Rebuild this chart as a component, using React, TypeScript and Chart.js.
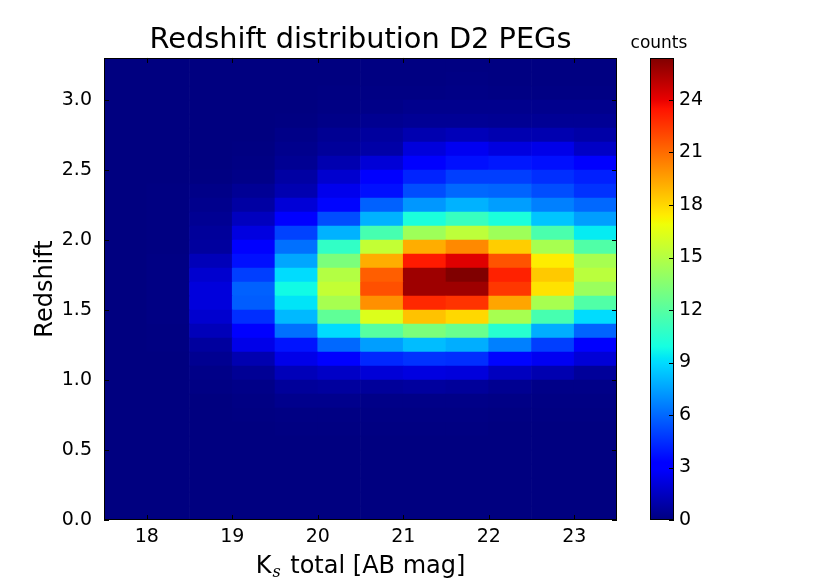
import React, { useEffect, useRef } from 'react';
import { Chart } from 'chart.js/auto';

Chart.defaults.font.family = "'DejaVu Sans', sans-serif";
Chart.defaults.color = '#000';

// K_s magnitude bins (centres), 0.5 mag wide
const magCentres = [17.75, 18.25, 18.75, 19.25, 19.75, 20.25, 20.75, 21.25, 21.75, 22.25, 22.75, 23.25];
const xRange = [17.5, 23.5];

// redshift bins (lower edges), 0.1 wide
const zLow = [
  0.0, 0.1, 0.2, 0.3, 0.4, 0.5, 0.6, 0.7, 0.8, 0.9, 1.0, 1.1, 1.2, 1.3, 1.4, 1.5, 1.6,
  1.7, 1.8, 1.9, 2.0, 2.1, 2.2, 2.3, 2.4, 2.5, 2.6, 2.7, 2.8, 2.9, 3.0, 3.1, 3.2,
];
const zWidth = 0.1;
const yRange = [0, 3.3];

// counts per cell, one row per redshift bin (bottom to top), one column per mag bin
const counts = [
  [0, 0, 0, 0, 0, 0, 0, 0, 0, 0, 0, 0], // 0.0
  [0, 0, 0, 0, 0, 0, 0, 0, 0, 0, 0, 0],
  [0, 0, 0, 0, 0, 0, 0, 0, 0, 0, 0, 0],
  [0, 0, 0, 0, 0, 0, 0, 0, 0, 0, 0, 0],
  [0, 0, 0, 0, 0, 0, 0, 0, 0, 0, 0, 0],
  [0, 0, 0, 0, 0, 0, 0, 0, 0, 0, 0, 0], // 0.5
  [0, 0, 0, 0, 0.05, 0.05, 0.05, 0.05, 0.05, 0, 0, 0],
  [0, 0, 0, 0.05, 0.1, 0.1, 0.1, 0.1, 0.1, 0.05, 0.05, 0.05],
  [0, 0, 0.02, 0.1, 0.3, 0.3, 0.2, 0.2, 0.2, 0.15, 0.1, 0.1],
  [0, 0, 0.1, 0.2, 0.6, 0.7, 0.6, 0.7, 0.6, 0.4, 0.2, 0.2],
  [0, 0, 0.2, 0.5, 1.3, 1.6, 2.0, 2.2, 2.1, 1.45, 1.1, 0.6], // 1.0
  [0, 0, 0.4, 1.1, 2.4, 3.1, 4.3, 4.6, 4.5, 3.4, 2.6, 2.0],
  [0, 0.05, 0.7, 2.4, 3.8, 6.0, 7.4, 8.2, 7.8, 6.6, 4.9, 3.1],
  [0, 0.05, 1.3, 3.1, 6.2, 9.0, 12.0, 13.2, 12.6, 10.5, 7.8, 5.9],
  [0, 0.1, 1.8, 4.5, 8.1, 12.3, 16.3, 18.6, 18.0, 14.6, 11.5, 9.0],
  [0, 0.1, 2.1, 5.7, 9.2, 14.6, 20.0, 22.9, 22.6, 19.4, 14.6, 11.8], // 1.5
  [0, 0.1, 2.1, 5.8, 9.8, 15.5, 21.8, 25.7, 25.7, 22.5, 17.7, 14.2],
  [0, 0.1, 1.8, 4.9, 9.0, 15.0, 21.4, 25.7, 26.4, 23.1, 18.4, 15.2],
  [0, 0.1, 1.3, 3.7, 7.6, 13.2, 19.2, 23.3, 24.2, 21.7, 17.4, 14.6],
  [0, 0.05, 0.7, 3.1, 6.2, 10.8, 15.5, 19.2, 20.2, 18.3, 14.6, 11.8],
  [0, 0.05, 0.6, 2.2, 5.0, 7.9, 11.5, 14.3, 15.3, 14.3, 11.6, 9.4], // 2.0
  [0, 0.05, 0.45, 1.45, 3.1, 5.3, 7.9, 10.1, 11.0, 10.1, 8.4, 7.4],
  [0, 0.05, 0.3, 0.8, 2.0, 3.4, 5.8, 7.2, 7.9, 7.4, 6.6, 6.0],
  [0, 0.05, 0.2, 0.5, 1.1, 2.5, 3.7, 5.3, 6.0, 5.9, 5.3, 4.6],
  [0, 0, 0.05, 0.2, 0.8, 1.8, 3.1, 4.2, 4.9, 4.9, 4.5, 4.1],
  [0, 0, 0.02, 0.1, 0.45, 1.1, 2.0, 3.1, 3.7, 3.9, 3.7, 3.1], // 2.5
  [0, 0, 0, 0.05, 0.3, 0.6, 0.9, 2.1, 2.6, 2.2, 2.4, 1.6],
  [0, 0, 0, 0, 0.2, 0.45, 0.7, 1.1, 1.3, 1.1, 1.1, 0.9],
  [0, 0, 0, 0, 0.05, 0.2, 0.4, 0.5, 0.5, 0.45, 0.5, 0.5],
  [0, 0, 0, 0, 0, 0.1, 0.2, 0.3, 0.3, 0.3, 0.3, 0.3],
  [0, 0, 0, 0, 0, 0.05, 0.1, 0.1, 0.15, 0.1, 0.1, 0.1], // 3.0
  [0, 0, 0, 0, 0, 0, 0.05, 0.05, 0.1, 0.05, 0.05, 0.05],
  [0, 0, 0, 0, 0, 0, 0.05, 0.05, 0.05, 0.05, 0.05, 0.05],
];

const xTicks = [18, 19, 20, 21, 22, 23];
const yTicks = [0, 0.5, 1.0, 1.5, 2.0, 2.5, 3.0];
const cbTicks = [0, 3, 6, 9, 12, 15, 18, 21, 24];

const vmax = Math.max(...counts.flat());

// matplotlib "jet" segment data
const jetR = [[0, 0], [0.35, 0], [0.66, 1], [0.89, 1], [1, 0.5]];
const jetG = [[0, 0], [0.125, 0], [0.375, 1], [0.64, 1], [0.91, 0], [1, 0]];
const jetB = [[0, 0.5], [0.11, 1], [0.34, 1], [0.65, 0], [1, 0]];
const jetStops = [0, 0.11, 0.125, 0.34, 0.35, 0.375, 0.64, 0.65, 0.66, 0.89, 0.91, 1];

const seg = (pts: number[][], t: number) => {
  for (let i = 1; i < pts.length; i++) {
    if (t <= pts[i][0]) {
      const [x0, y0] = pts[i - 1];
      const [x1, y1] = pts[i];
      return y0 + ((t - x0) / (x1 - x0)) * (y1 - y0);
    }
  }
  return pts[pts.length - 1][1];
};

const jet = (t: number) => {
  const v = Math.min(1, Math.max(0, t));
  const c = (p: number[][]) => Math.round(seg(p, v) * 255);
  return `rgb(${c(jetR)},${c(jetG)},${c(jetB)})`;
};

// frame + inward ticks like matplotlib
const makeFrame = (xt: number[], yt: number[], sides: { x: boolean; left: boolean; right: boolean }) => ({
  id: 'frame',
  afterDatasetsDraw(chart: any) {
    const { ctx, chartArea: a, scales } = chart;
    const len = 5;
    ctx.save();
    ctx.strokeStyle = '#000';
    ctx.lineWidth = 1;
    ctx.beginPath();
    if (sides.x) {
      xt.forEach((v) => {
        const px = Math.round(scales.x.getPixelForValue(v)) + 0.5;
        ctx.moveTo(px, a.top);
        ctx.lineTo(px, a.top + len);
        ctx.moveTo(px, a.bottom);
        ctx.lineTo(px, a.bottom - len);
      });
    }
    yt.forEach((v) => {
      const py = Math.round(scales.y.getPixelForValue(v)) + 0.5;
      if (sides.left) {
        ctx.moveTo(a.left, py);
        ctx.lineTo(a.left + len, py);
      }
      if (sides.right) {
        ctx.moveTo(a.right, py);
        ctx.lineTo(a.right - len, py);
      }
    });
    ctx.stroke();
    ctx.strokeRect(Math.round(a.left) + 0.5, Math.round(a.top) + 0.5, Math.round(a.right - a.left) - 1, Math.round(a.bottom - a.top) - 1);
    ctx.restore();
  },
});

const App = () => {
  const mainRef = useRef<HTMLCanvasElement>(null);
  const barRef = useRef<HTMLCanvasElement>(null);

  useEffect(() => {
    if (!mainRef.current || !barRef.current) return;

    const main = new Chart(mainRef.current, {
      type: 'bar',
      data: {
        datasets: zLow.map((z, r) => ({
          label: `z ${z.toFixed(1)}`,
          data: magCentres.map((m) => ({ x: m, y: [z, z + zWidth] })) as any,
          backgroundColor: counts[r].map((v) => jet(v / vmax)),
          borderWidth: 0,
          grouped: false,
          barPercentage: 1,
          categoryPercentage: 1,
        })),
      },
      options: {
        animation: false,
        responsive: false,
        events: [],
        layout: { padding: { left: 0, right: 213, top: 0, bottom: 0 } },
        plugins: {
          legend: { display: false },
          tooltip: { enabled: false },
          title: {
            display: true,
            text: 'Redshift distribution D2 PEGs',
            fullSize: false,
            color: '#000',
            font: { size: 28.8, weight: 'normal', lineHeight: 1.2 },
            padding: { top: 23.4, bottom: 0 },
          },
        },
        scales: {
          x: {
            type: 'linear',
            min: xRange[0],
            max: xRange[1],
            offset: false,
            grid: { display: false, drawTicks: false, offset: false },
            border: { display: false },
            afterBuildTicks: (s: any) => {
              s.ticks = xTicks.map((v) => ({ value: v }));
            },
            afterFit: (s: any) => {
              s.height = 61;
            },
            ticks: { padding: 5.4, font: { size: 19 }, color: '#000', maxRotation: 0 },
          },
          y: {
            type: 'linear',
            min: yRange[0],
            max: yRange[1],
            grid: { display: false, drawTicks: false },
            border: { display: false },
            afterBuildTicks: (s: any) => {
              s.ticks = yTicks.map((v) => ({ value: v }));
            },
            afterFit: (s: any) => {
              s.width = 104;
            },
            ticks: {
              padding: 12,
              font: { size: 19 },
              color: '#000',
              callback: (v: any) => Number(v).toFixed(1),
            },
            title: {
              display: true,
              text: 'Redshift',
              color: '#000',
              font: { size: 24, lineHeight: 1.2 },
              padding: { top: 31.5, bottom: 0 },
            },
          },
        },
      },
      plugins: [makeFrame(xTicks, yTicks, { x: true, left: true, right: true })],
    });

    const cbar = new Chart(barRef.current, {
      type: 'bar',
      data: {
        labels: ['counts'],
        datasets: [
          {
            data: [[0, vmax]] as any,
            backgroundColor: (c: any) => {
              const a = c.chart.chartArea;
              if (!a) return jet(0.5);
              const g = c.chart.ctx.createLinearGradient(0, a.bottom, 0, a.top);
              jetStops.forEach((t) => g.addColorStop(t, jet(t)));
              return g;
            },
            borderWidth: 0,
            barPercentage: 1,
            categoryPercentage: 1,
          },
        ],
      },
      options: {
        animation: false,
        responsive: false,
        events: [],
        layout: { padding: { left: 30, right: 0, top: 58, bottom: 61 } },
        plugins: {
          legend: { display: false },
          tooltip: { enabled: false },
        },
        scales: {
          x: { display: false },
          y: {
            position: 'right',
            min: 0,
            max: vmax,
            grid: { display: false, drawTicks: false },
            border: { display: false },
            afterBuildTicks: (s: any) => {
              s.ticks = cbTicks.map((v) => ({ value: v }));
            },
            afterFit: (s: any) => {
              s.width = 156;
            },
            ticks: { padding: 5, font: { size: 19 }, color: '#000' },
          },
        },
      },
      plugins: [makeFrame([], cbTicks, { x: false, left: false, right: true })],
    });

    return () => {
      main.destroy();
      cbar.destroy();
    };
  }, []);

  const font = "'DejaVu Sans', sans-serif";

  return (
    <div style={{ position: 'absolute', left: 0, top: 0, width: 830, height: 581, background: '#fff', overflow: 'hidden' }}>
      <canvas ref={mainRef} width={830} height={581} style={{ position: 'absolute', left: 0, top: 0 }} />
      <canvas ref={barRef} width={210} height={581} style={{ position: 'absolute', left: 620, top: 0 }} />
      <div
        style={{
          position: 'absolute',
          left: 609,
          top: 33.9,
          width: 100,
          textAlign: 'center',
          fontFamily: font,
          fontSize: 17,
          lineHeight: '17px',
          color: '#000',
          whiteSpace: 'nowrap',
        }}
      >
        counts
      </div>
      <div
        style={{
          position: 'absolute',
          left: 104,
          top: 552.7,
          width: 513,
          textAlign: 'center',
          fontFamily: font,
          fontSize: 24,
          lineHeight: '24px',
          color: '#000',
          whiteSpace: 'nowrap',
        }}
      >
        K
        <span style={{ fontFamily: "'DejaVu Serif', serif", fontStyle: 'italic', fontSize: 16, position: 'relative', top: 4, marginLeft: 1, marginRight: 2 }}>s</span>
        {' total [AB mag]'}
      </div>
    </div>
  );
};

export default App;
